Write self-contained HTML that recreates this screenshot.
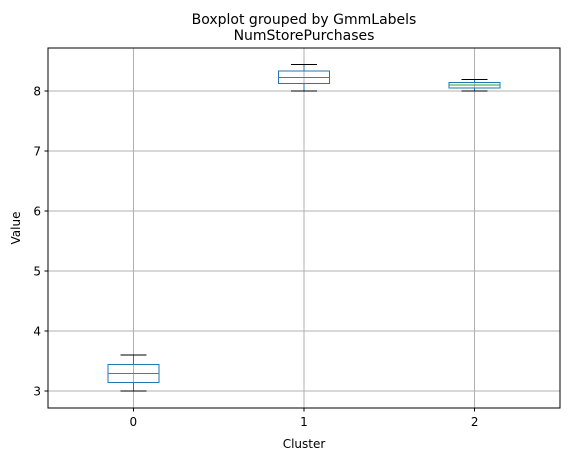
<!DOCTYPE html>
<html><head><meta charset="utf-8"><style>
body{margin:0;background:#fff;font-family:"Liberation Sans","DejaVu Sans",sans-serif}
svg text{font-family:"DejaVu Sans","Liberation Sans",sans-serif}
svg line,svg rect{shape-rendering:crispEdges}
</style></head><body>
<svg id="c" width="570" height="461" xmlns="http://www.w3.org/2000/svg">
<text x="304" y="24" font-size="14" text-anchor="middle">Boxplot grouped by GmmLabels</text>
<text x="304" y="40" font-size="14" text-anchor="middle">NumStorePurchases</text>
<text x="304" y="448" font-size="12" text-anchor="middle">Cluster</text>
<text x="20" y="228" font-size="12" text-anchor="middle" transform="rotate(-90 20 228)">Value</text>
<g id="g"></g>
</svg>
<script>
const categories=["0","1","2"];
const whiskLo=[3.0,8.0,8.0];
const q1=[3.145,8.122,8.05];
const med=[3.295,8.228,8.1];
const q3=[3.445,8.333,8.145];
const whiskHi=[3.6,8.445,8.195];
const yTicks=[3,4,5,6,7,8];
const L=48,R=560,T=48,B=408,yMin=2.717,yMax=8.717;
const xs=i=>L+(i+0.5)*(R-L)/categories.length;
const ys=v=>B-(v-yMin)/(yMax-yMin)*(B-T);
const g=document.getElementById('g');const NS='http://www.w3.org/2000/svg';
function mk(t,a){const e=document.createElementNS(NS,t);for(const k in a)e.setAttribute(k,a[k]);g.appendChild(e);return e;}
yTicks.forEach(v=>{const y=ys(v);
 let e=mk('line',{x1:L,x2:R,y1:y,y2:y,stroke:'#b0b0b0','stroke-width':1});
 
 
 e=mk('line',{x1:L-3.5,x2:L,y1:y,y2:y,stroke:'#000','stroke-width':1});
 
 
 e=mk('text',{x:L-7,y:y+4.5,'font-size':12,'text-anchor':'end'});e.textContent=v;
 
 
});
categories.forEach((c,i)=>{const x=xs(i);
 let e=mk('line',{x1:x,x2:x,y1:T,y2:B,stroke:'#b0b0b0','stroke-width':1});
 
 
 e=mk('line',{x1:x,x2:x,y1:B,y2:B+3.5,stroke:'#000','stroke-width':1});
 
 
 e=mk('text',{x:x,y:B+18,'font-size':12,'text-anchor':'middle'});e.textContent=c;
 
 
 const bw=51,cw=26;
 e=mk('line',{x1:x,x2:x,y1:ys(q3[i]),y2:ys(whiskHi[i]),stroke:'#1f77b4','stroke-width':1});
 
 
 e=mk('line',{x1:x,x2:x,y1:ys(q1[i]),y2:ys(whiskLo[i]),stroke:'#1f77b4','stroke-width':1});
 
 
 e=mk('line',{x1:x-cw/2,x2:x+cw/2,y1:ys(whiskHi[i]),y2:ys(whiskHi[i]),stroke:'#000','stroke-width':1});
 
 
 e=mk('line',{x1:x-cw/2,x2:x+cw/2,y1:ys(whiskLo[i]),y2:ys(whiskLo[i]),stroke:'#000','stroke-width':1});
 
 
 e=mk('rect',{x:x-bw/2,y:ys(q3[i]),width:bw,height:ys(q1[i])-ys(q3[i]),fill:'none',stroke:'#1f77b4','stroke-width':1});
 
 
 e=mk('line',{x1:x-bw/2,x2:x+bw/2,y1:ys(med[i]),y2:ys(med[i]),stroke:'#2ca02c','stroke-width':1});
 
 
});
const f=mk('rect',{x:L,y:T,width:R-L,height:B-T,fill:'none',stroke:'#000','stroke-width':1});


</script>
</body></html>
